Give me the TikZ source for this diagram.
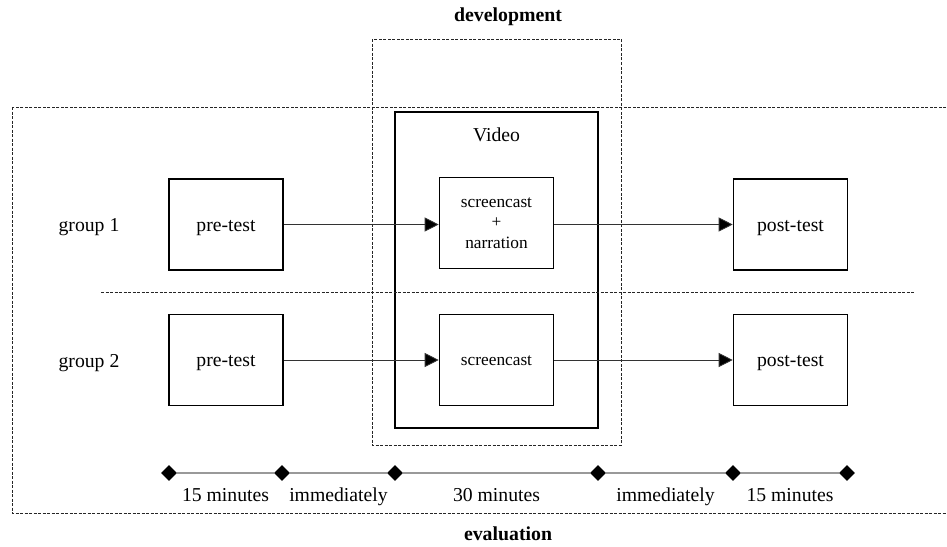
\documentclass[tikz,border=0pt]{standalone}
\usepackage{fontspec}
\setmainfont{Liberation Serif}
\usetikzlibrary{positioning,calc,shapes.geometric,arrows.meta}

\begin{document}
\begin{tikzpicture}[x=1pt,y=-1pt,
	testbox/.style={draw,line width=1.6pt,minimum width=114pt,minimum height=91pt,inner sep=0pt,text height=15.5pt,text depth=2pt,font=\fontsize{19.7}{22}\selectfont},
	castbox/.style={draw,line width=1.6pt,minimum width=114pt,minimum height=91pt,inner sep=0pt,align=center,font=\fontsize{17.3}{20.5}\selectfont},
	flow/.style={line width=0.8pt,draw=black!80,-{Triangle[length=14pt,width=14pt,fill=black]}},
	phase/.style={draw=black!85,line width=0.9pt,dash pattern=on 3pt off 1.5pt},
	tick/.style={diamond,fill=black,minimum size=16pt,inner sep=0pt},
	lbl/.style={anchor=base,font=\fontsize{19.7}{22}\selectfont},
	title/.style={anchor=base,font=\fontsize{19.8}{22}\selectfont\bfseries}]
	\useasboundingbox (0,0) rectangle (947,546);
	% phases
	\draw[phase] (12,107) rectangle (955,513);
	\draw[phase] (372,39) rectangle (621,445);
	\node[title] (dev) at (508,21.5) {development};
	\node[title] (eval) at (508,540) {evaluation};
	% video
	\node[draw,line width=1.6pt,minimum width=203pt,minimum height=316pt] (video) at (496.5,270) {};
	\node[lbl] (videolbl) at (496.5,141.5) {Video};
	% groups
	\node[lbl] (g1) at (89,231.5) {group 1};
	\node[lbl] (g2) at (89,367) {group 2};
	\coordinate (sepL) at (101,292);
	\coordinate (sepR) at (915,292);
	\draw[phase] (sepL) -- (sepR);
	\node[testbox] (pre1) at (226,224.5) {pre-test};
	\node[castbox] (cast1) at (496.5,223) {screencast\\+\\narration};
	\node[testbox] (post1) at (790.5,224.5) {post-test};
	\node[testbox] (pre2) at (226,360) {pre-test};
	\node[castbox,text height=11pt,text depth=0pt] (cast2) at (496.5,360) {screencast};
	\node[testbox] (post2) at (790.5,360) {post-test};
	\draw[flow] (pre1) -- (pre1 -| cast1.west);
	\draw[flow] (cast1.east |- pre1) -- (post1);
	\draw[flow] (pre2) -- (cast2);
	\draw[flow] (cast2) -- (post2);
	% timeline
	\foreach \x [count=\i from 0] in {169,282,395,598,733,847}
		\node[tick] (t\i) at (\x,473) {};
	\foreach \a/\b/\txt in {0/1/15 minutes,1/2/immediately,2/3/30 minutes,3/4/immediately,4/5/15 minutes}{
		\draw[line width=1.6pt,draw=black!40] (t\a) -- (t\b);
		\node[lbl] (d\a) at ($(t\a)!0.5!(t\b)+(0,28.5)$) {\txt};
	}
\end{tikzpicture}
\end{document}
